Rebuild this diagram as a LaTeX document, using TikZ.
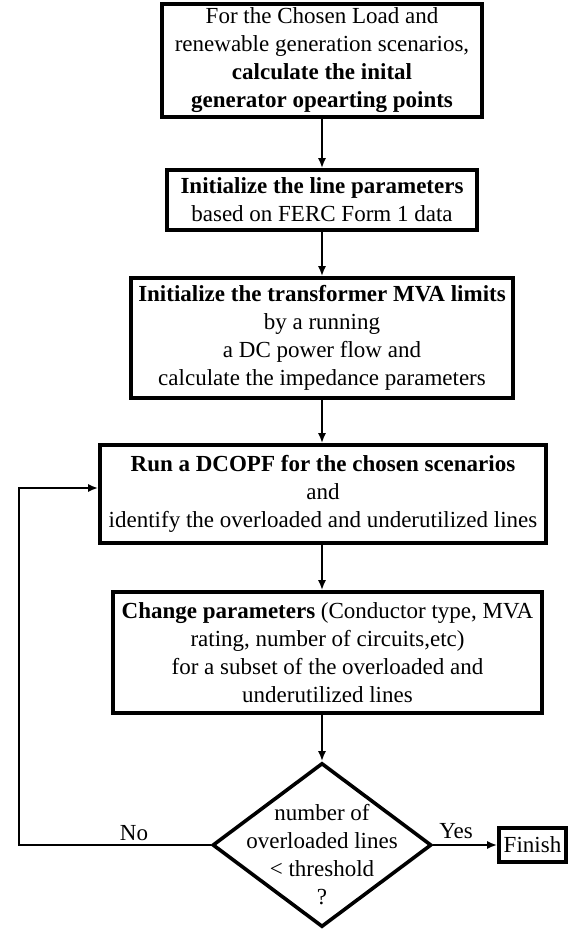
\documentclass[tikz,border=0pt]{standalone}
\usepackage{fontspec}
\setmainfont{Liberation Serif}
\usetikzlibrary{arrows.meta,shapes.geometric}
\begin{document}
\begin{tikzpicture}[x=0.75pt,y=-0.75pt,
  txt/.style={font=\fontsize{17.25}{21}\selectfont},
  box/.style={draw, line width=2.7pt, align=center, inner sep=0pt, txt},
  arr/.style={line width=2.1pt, -{Latex[length=7.5pt,width=6pt]}},
  lbl/.style={txt, inner sep=0pt}]
\useasboundingbox (0,0) rectangle (584,931);
\node[box, minimum width=240pt, minimum height=84.75pt] (b1) at (322,60.5)
  {For the Chosen Load and\\renewable generation scenarios,\\\textbf{calculate the inital}\\\textbf{generator opearting points}};
\node[box, minimum width=232.5pt, minimum height=45pt] (b2) at (322,200)
  {\textbf{Initialize the line parameters}\\based on FERC Form 1 data};
\node[box, minimum width=286.5pt, minimum height=90pt] (b3) at (322,338)
  {\textbf{Initialize the transformer MVA limits}\\by a running\\a DC power flow and\\calculate the impedance parameters};
\node[box, minimum width=334.5pt, minimum height=73.5pt] (b4) at (323,494)
  {\textbf{Run a DCOPF for the chosen scenarios}\\and\\identify the overloaded and underutilized lines};
\node[box, minimum width=321.75pt, minimum height=90.75pt] (b5) at (327.5,652.5)
  {\textbf{Change parameters} (Conductor type, MVA\\rating, number of circuits,etc)\\for a subset of the overloaded and\\underutilized lines};
\node[draw, diamond, line width=2.7pt, minimum width=164.25pt, minimum height=123pt, inner sep=0pt] (dec) at (322,845) {};
\node[lbl, align=center] (dectxt) at (322,855) {number of\\overloaded lines\\< threshold\\?};
\node[box, minimum width=50.25pt, minimum height=25.5pt] (fin) at (532.5,845) {Finish};
\coordinate (fbl) at (19,845);
\coordinate (fbt) at (19,488);
\draw[arr] (b1.south) -- (b2.north);
\draw[arr] (b2.south) -- (b3.north);
\draw[arr] (b3.south) -- (b3.south |- b4.north);
\draw[arr] (b3.south |- b4.south) -- (b3.south |- b5.north);
\draw[arr] (b3.south |- b5.south) -- (dec.north);
\draw[arr] (dec.east) -- (fin.west);
\draw[arr] (dec.west) -- (fbl) -- (fbt) -- (b4.west |- fbt);
\node[lbl] (no) at (134,833) {No};
\node[lbl] (yes) at (456,831) {Yes};
\end{tikzpicture}
\end{document}
